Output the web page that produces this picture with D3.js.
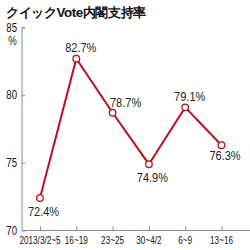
<!DOCTYPE html>
<html><head><meta charset="utf-8">
<script src="https://cdn.jsdelivr.net/npm/d3@7/dist/d3.min.js"></script>
<style>
html,body{margin:0;padding:0;background:#fff;}
svg{display:block;}
text{font-family:"Liberation Sans",Arial,sans-serif;}
</style></head>
<body><svg id="c" width="250" height="250"></svg>
<script>
const title = "クイックVote内閣支持率";
const categories = ["2013/3/2~5","16~19","23~25","30~4/2","6~9","13~16"];
const values = [72.4, 82.7, 78.7, 74.9, 79.1, 76.3];
const yTicks = [70, 75, 80, 85];
const labelPlacement = ["below","above","aboveRight","below","above","below"];

const svg = d3.select("#c");
const x = d3.scalePoint().domain(categories).range([40, 221.5]);
const y = d3.scaleLinear().domain([70, 85]).range([230.5, 27.5]);
const axisColor = "#8a8a8a";
const red = "#b8101c";
const narrow = (sx) => (px, py) => `translate(${px},${py}) scale(${sx},1)`;

svg.append("text").attr("x", 6).attr("y", 17)
  .attr("font-family", "'Noto Sans CJK JP',sans-serif")
  .attr("font-weight", "bold").attr("font-size", 13.4).attr("fill", "#111")
  .attr("letter-spacing", -0.4)
  .text(title);

// y axis
const yAxis = svg.append("g").attr("transform", "translate(22,0)")
  .call(d3.axisRight(y).tickValues(yTicks).tickSize(3).tickFormat(""));
yAxis.select(".domain").attr("stroke", axisColor).attr("d", `M3,${y(85)}H0V${y(70)}`);
yAxis.selectAll(".tick line").attr("stroke", axisColor);
const ny = narrow(0.8);
svg.selectAll(".ylab").data(yTicks).join("text")
  .attr("transform", d => ny(17, y(d) + 4.3))
  .attr("text-anchor", "end").attr("font-size", 12).attr("fill", "#111")
  .text(d => d);
svg.append("text").attr("transform", ny(12.5, 45)).attr("text-anchor", "middle")
  .attr("font-size", 12).attr("fill", "#111").text("%");

// x axis
const xAxis = svg.append("g").attr("transform", `translate(0,${y(70)})`)
  .call(d3.axisTop(x).tickSize(4).tickFormat(""));
xAxis.select(".domain").attr("stroke", axisColor).attr("d", `M22,0H250`);
xAxis.selectAll(".tick line").attr("stroke", axisColor);
const nx = narrow(0.82);
svg.selectAll(".xlab").data(categories).join("text")
  .attr("transform", d => nx(x(d), 244))
  .attr("text-anchor", "middle").attr("font-size", 10).attr("fill", "#111")
  .text(d => d);

// line
const pts = categories.map((c, i) => [x(c), y(values[i])]);
svg.append("path").attr("d", d3.line()(pts))
  .attr("fill", "none").attr("stroke", red).attr("stroke-width", 2);
svg.selectAll(".pt").data(pts).join("circle")
  .attr("cx", d => d[0]).attr("cy", d => d[1]).attr("r", 3.3)
  .attr("fill", "#fff").attr("stroke", red).attr("stroke-width", 1.3);

// labels
const off = {below: [3.5, 17.5], above: [4.5, -6.5], aboveRight: [13, -6]};
const nl = narrow(0.88);
svg.selectAll(".vlab").data(values).join("text")
  .attr("transform", (d, i) => nl(pts[i][0] + off[labelPlacement[i]][0],
        pts[i][1] + off[labelPlacement[i]][1] - (i === 5 ? 2.5 : 0)))
  .attr("text-anchor", "middle").attr("font-size", 12.5).attr("fill", "#222")
  .text(d => d.toFixed(1) + "%");
</script></body></html>
